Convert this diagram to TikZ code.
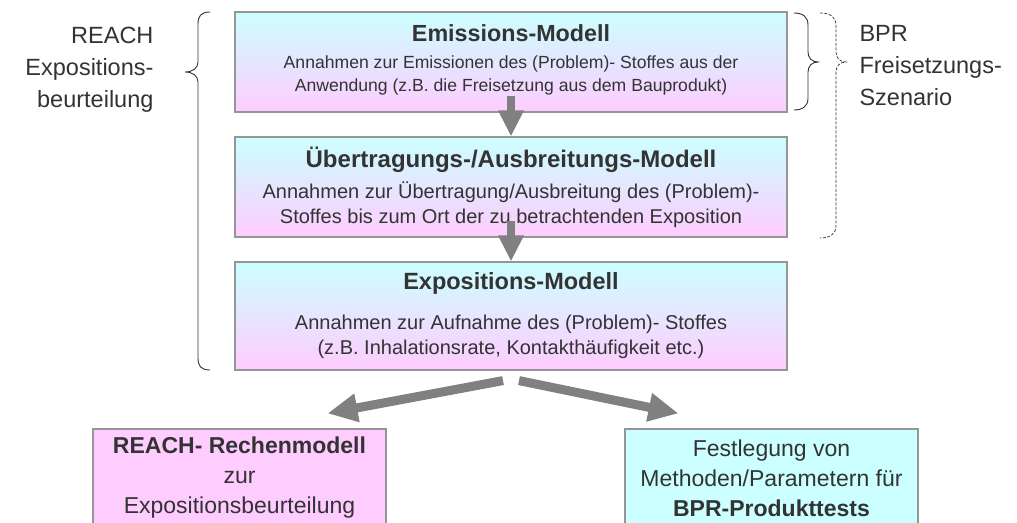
\documentclass[tikz,border=0pt]{standalone}
\usepackage{fontspec}
\setmainfont{Liberation Sans}
\usetikzlibrary{arrows.meta}
\usetikzlibrary{calc}
\definecolor{txtgray}{RGB}{51,51,51}
\definecolor{boxcyan}{RGB}{204,255,255}
\definecolor{boxpink}{RGB}{255,204,255}
\definecolor{arrgray}{RGB}{128,128,128}
\definecolor{edgegray}{RGB}{150,150,150}

\begin{document}
\begin{tikzpicture}[x=1pt,y=1pt,yscale=-1,xscale=1,
  modelbox/.style={draw=edgegray,line width=1.2pt,top color=boxcyan,bottom color=boxpink,minimum width=552pt,align=center,text=txtgray,inner sep=0pt},
  resultbox/.style={draw=edgegray,line width=1.2pt,minimum width=293pt,minimum height=98pt,align=center,text=txtgray,font=\fontsize{23}{30}\selectfont},
  bigarrow/.style={draw=arrgray,line width=8pt,-{Triangle[width=24pt,length=26pt]}},
  forkarrow/.style={draw=arrgray,line width=9pt,-{Triangle[width=27pt,length=30pt]}},
  bracestyle/.style={draw=txtgray,line width=0.9pt},
  sidelabel/.style={text=txtgray,font=\fontsize{23.5}{32}\selectfont}]
\useasboundingbox (0,0) rectangle (1017,522);
\clip (0,0) rectangle (1017,522);

%Shape: Rectangle [model boxes]
\node[modelbox,minimum height=100pt,font=\fontsize{17.6}{23}\selectfont] (emis) at (511,62)
  {{\fontsize{23.3}{28}\selectfont\bfseries Emissions-Modell}\\[4pt]
   Annahmen zur Emissionen des (Problem)- Stoffes aus der\\
   Anwendung (z.B. die Freisetzung aus dem Bauprodukt)\rule[-7pt]{0pt}{0pt}};
\node[modelbox,minimum height=100pt,font=\fontsize{20}{25}\selectfont] (trans) at (511,187)
  {{\fontsize{24}{28}\selectfont\bfseries Übertragungs-/Ausbreitungs-Modell}\\[6pt]
   Annahmen zur Übertragung/Ausbreitung des (Problem)-\\
   Stoffes bis zum Ort der zu betrachtenden Exposition};
\node[modelbox,minimum height=108pt,font=\fontsize{20}{25}\selectfont] (expo) at (511,316)
  {{\fontsize{23.5}{28}\selectfont\bfseries Expositions-Modell}\\[15pt]
   Annahmen zur Aufnahme des (Problem)- Stoffes\\
   (z.B. Inhalationsrate, Kontakthäufigkeit etc.)};

%Shape: Rectangle [result boxes]
\node[resultbox,fill=boxpink] (reach) at (239.5,478)
  {\textbf{REACH- Rechenmodell}\\ zur\\ Expositionsbeurteilung};
\node[resultbox,fill=boxcyan] (bprtest) at (771.5,478)
  {Festlegung von\\ Methoden/Parametern für\\ \textbf{BPR-Produkttests}};

%Straight Lines [arrows]
\draw[bigarrow] ($(emis.south)+(0,-17)$) -- (trans.north);
\draw[bigarrow] ($(trans.south)+(0,-17)$) -- (expo.north);
\draw[forkarrow] ($(expo.south)+(-8,10)$) -- ($(reach.north)+(88,-15)$);
\draw[forkarrow] ($(expo.south)+(8,10)$) -- ($(bprtest.north)+(-93,-15)$);

%Curve Lines [braces]
\draw[bracestyle] (210,12) .. controls (201,12) and (198,16) .. (198,24) -- (198,62) .. controls (198,68) and (193,72) .. (185,72) .. controls (193,72) and (198,76) .. (198,82) -- (198,358) .. controls (198,366) and (201,370) .. (210,370);
\draw[bracestyle] (794,13) .. controls (803,13) and (808,17) .. (808,25) -- (808,52) .. controls (808,58) and (812,62) .. (818,62) .. controls (812,62) and (808,66) .. (808,72) -- (808,98) .. controls (808,106) and (803,110) .. (794,110);
\draw[bracestyle,dash pattern={on 3pt off 1.5pt},line width=0.7pt] (820,13) .. controls (830,13) and (836,17) .. (836,25) -- (836,52) .. controls (836,58) and (840,62) .. (846,62) .. controls (840,62) and (836,66) .. (836,72) -- (836,226) .. controls (836,234) and (830,238) .. (820,238);

%Text labels
\node[sidelabel,align=right,anchor=east] (reachlbl) at (157,70) {REACH\\Expositions-\\beurteilung};
\node[sidelabel,align=left,anchor=west] (bprlbl) at (856,66) {BPR\\Freisetzungs-\\Szenario};

\end{tikzpicture}
\end{document}
